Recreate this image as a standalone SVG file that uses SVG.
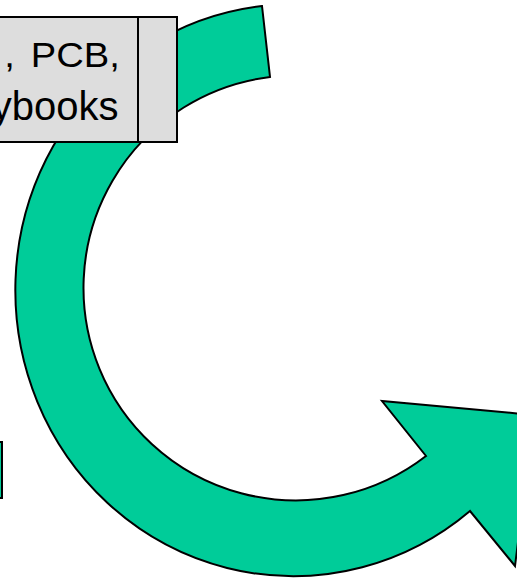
<svg xmlns="http://www.w3.org/2000/svg" width="517" height="579" viewBox="0 0 517 579">
  <style>
    .shape { fill: #00CC99; stroke: #000; stroke-width: 2; stroke-linejoin: miter; }
    .box { fill: #DDDDDD; stroke: #000; stroke-width: 2; }
    .label { font-family: "Liberation Sans", Arial, sans-serif; fill: #000; text-anchor: end; }
  </style>
  <rect width="517" height="579" fill="#fff"/>
  <g id="connectors">
    <path id="curved-arrow" class="shape" d="M 262,6 A 278 286 0 1 0 470,511 L 515,566 L 534,415 L 382,401 L 426,456 A 212.5 212.5 0 1 1 270,77 Z"/>
  </g>
  <g id="node-left">
    <rect class="shape" x="-50" y="442" width="52" height="56"/>
  </g>
  <g id="node-box">
    <rect class="box" x="-100" y="17" width="277" height="125"/>
    <line x1="138" y1="17" x2="138" y2="142" stroke="#000" stroke-width="2"/>
    <text class="label" font-size="35" word-spacing="5" transform="scale(1.09,1)" x="110" y="67.3">, PCB,</text>
    <text class="label" font-size="40" x="118.5" y="119.7">ybooks</text>
  </g>
</svg>
